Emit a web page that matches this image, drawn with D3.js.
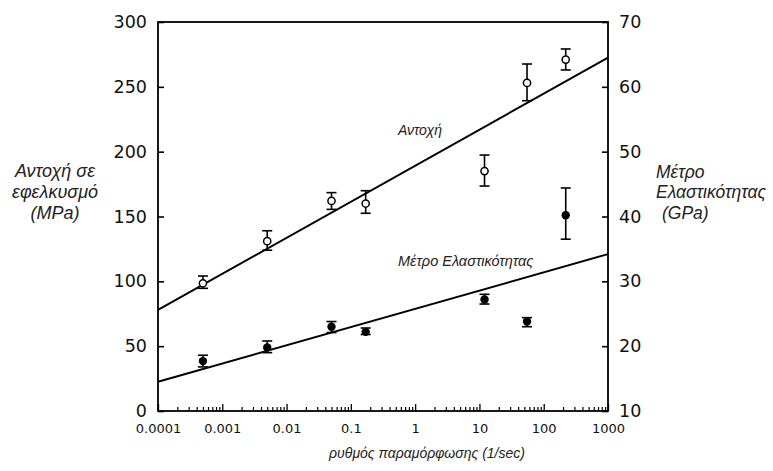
<!DOCTYPE html>
<html><head><meta charset="utf-8">
<script src="https://cdn.jsdelivr.net/npm/d3@7"></script>
<style>body{margin:0;background:#fff}svg{display:block}</style>
</head><body><svg id="c" width="773" height="471"></svg>
<script>
const strainRate = [0.0005, 0.005, 0.05, 0.17, 12, 55, 220];
const strength   = [98.5, 131, 162, 160, 185, 253, 271];
const strengthLo = [94.6, 124, 155.5, 152.5, 173.5, 239.3, 263];
const strengthHi = [104.1, 139, 168.4, 169.9, 197.4, 267.6, 279.2];
const modulus    = [17.7, 19.8, 23.0, 22.2, 27.2, 23.8, 40.2];
const modulusLo  = [16.8, 19.0, 22.1, 21.8, 26.5, 23.0, 36.5];
const modulusHi  = [18.6, 20.8, 23.8, 22.8, 28.0, 24.4, 44.4];
const fitX = [0.0001, 1000];
const strengthFit = [78, 272.5];
const modulusFit = [14.5, 34.2];
const xTicks = [0.0001, 0.001, 0.01, 0.1, 1, 10, 100, 1000];
const xTickLabels = ["0.0001", "0.001", "0.01", "0.1", "1", "10", "100", "1000"];
const leftTicks = [0, 50, 100, 150, 200, 250, 300];
const rightTicks = [10, 20, 30, 40, 50, 60, 70];

const svg = d3.select("#c");
const L = 158, R = 608, T = 22, B = 411;
const x = d3.scaleLog().domain([0.0001, 1000]).range([L, R]);
const yL = d3.scaleLinear().domain([0, 300]).range([B, T]);
const yR = d3.scaleLinear().domain([10, 70]).range([B, T]);

// frame
svg.append("rect").attr("x", L).attr("y", T).attr("width", R - L).attr("height", B - T)
  .attr("fill", "none").attr("stroke", "#000").attr("stroke-width", 1.8);

// x axis ticks (inward)
const minor = [];
for (let e = -4; e < 3; e++) for (let m = 2; m <= 9; m++) minor.push(m * Math.pow(10, e));
const xa = svg.append("g").attr("transform", `translate(0,${B})`)
  .call(d3.axisBottom(x).tickValues(xTicks).tickFormat((d, i) => xTickLabels[i]).tickSizeInner(-7).tickSizeOuter(0).tickPadding(13));
xa.select(".domain").remove();
xa.selectAll("line").attr("stroke-width", 1.3);
xa.selectAll("text").attr("font-family", "DejaVu Sans").attr("font-size", 13).attr("fill", "#111");
svg.append("g").attr("transform", `translate(0,${B})`)
  .call(d3.axisBottom(x).tickValues(minor).tickFormat("").tickSizeInner(-4).tickSizeOuter(0))
  .call(g => g.select(".domain").remove())
  .selectAll("line").attr("stroke-width", 1.2);

// left axis
const la = svg.append("g").attr("transform", `translate(${L},0)`)
  .call(d3.axisLeft(yL).tickValues(leftTicks).tickSizeInner(-6).tickSizeOuter(0).tickPadding(11));
la.select(".domain").remove();
la.selectAll("line").attr("stroke-width", 1.6);
la.selectAll("text").attr("font-family", "DejaVu Sans").attr("font-size", 17.5).attr("fill", "#111");

// right axis
const ra = svg.append("g").attr("transform", `translate(${R},0)`)
  .call(d3.axisRight(yR).tickValues(rightTicks).tickSizeInner(-6).tickSizeOuter(0).tickPadding(11));
ra.select(".domain").remove();
ra.selectAll("line").attr("stroke-width", 1.6);
ra.selectAll("text").attr("font-family", "DejaVu Sans").attr("font-size", 17.5).attr("fill", "#111");

// fit lines
const lineL = d3.line().x((d, i) => x(fitX[i])).y(d => yL(d));
const lineR = d3.line().x((d, i) => x(fitX[i])).y(d => yR(d));
svg.append("path").attr("d", lineL(strengthFit)).attr("stroke", "#000").attr("stroke-width", 2).attr("fill", "none");
svg.append("path").attr("d", lineR(modulusFit)).attr("stroke", "#000").attr("stroke-width", 2).attr("fill", "none");

// error bars
function errbars(lo, hi, y) {
  const g = svg.append("g").attr("stroke", "#000").attr("stroke-width", 1.6);
  strainRate.forEach((d, i) => {
    const cx = x(d);
    g.append("line").attr("x1", cx).attr("x2", cx).attr("y1", y(lo[i])).attr("y2", y(hi[i]));
    g.append("line").attr("x1", cx - 5).attr("x2", cx + 5).attr("y1", y(lo[i])).attr("y2", y(lo[i]));
    g.append("line").attr("x1", cx - 5).attr("x2", cx + 5).attr("y1", y(hi[i])).attr("y2", y(hi[i]));
  });
}
errbars(strengthLo, strengthHi, yL);
errbars(modulusLo, modulusHi, yR);

svg.append("g").selectAll("circle").data(strength).join("circle")
  .attr("cx", (d, i) => x(strainRate[i])).attr("cy", d => yL(d)).attr("r", 3.6)
  .attr("fill", "#fff").attr("stroke", "#000").attr("stroke-width", 1.5);
svg.append("g").selectAll("circle").data(modulus).join("circle")
  .attr("cx", (d, i) => x(strainRate[i])).attr("cy", d => yR(d)).attr("r", 4.2)
  .attr("fill", "#000");

// labels
const it = (t, xx, yy, size, anchor) => svg.append("text").attr("x", xx).attr("y", yy)
  .attr("font-family", "Liberation Sans, Arial").attr("font-style", "italic")
  .attr("font-size", size).attr("text-anchor", anchor || "start").attr("fill", "#222").text(t);
it("Αντοχή", 398, 135, 14);
it("Μέτρο Ελαστικότητας", 398, 266, 14.5);
it("Αντοχή σε", 55, 177, 18, "middle");
it("εφελκυσμό", 55, 198, 18, "middle");
it("(MPa)", 55, 219, 18, "middle");
it("Μέτρο", 656, 178, 17.5);
it("Ελαστικότητας", 656, 198, 17.5);
it("(GPa)", 662, 219, 17.5);
it("ρυθμός παραμόρφωσης (1/sec)", 427, 458, 14, "middle");
</script></body></html>
